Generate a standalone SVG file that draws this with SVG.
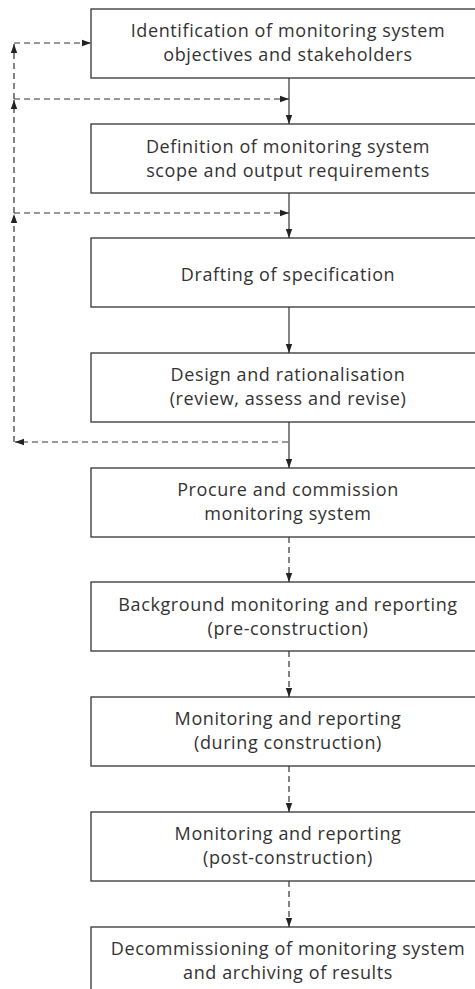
<svg xmlns="http://www.w3.org/2000/svg" width="475" height="989" viewBox="0 0 475 989">
<style>
.box{fill:#fff;stroke:#333;stroke-width:1.3}
.t{font-family:"Open Sans","Noto Sans","Liberation Sans",sans-serif;font-size:18px;fill:#333;text-anchor:middle;font-weight:400;letter-spacing:0.6px}
.c{fill:none;stroke:#333;stroke-width:1.2}
.d{stroke-dasharray:6 4}
</style>
<defs>
<marker id="ah" markerUnits="userSpaceOnUse" markerWidth="10" markerHeight="8" refX="9" refY="4" orient="auto">
<path d="M0,0.8 L9,4 L0,7.2 Z" fill="#222"/>
</marker>
</defs>
<rect width="475" height="989" fill="#fff"/>
<g id="connectors">
<path class="c" d="M289,78 V124" marker-end="url(#ah)"/>
<path class="c" d="M289,193 V238" marker-end="url(#ah)"/>
<path class="c" d="M289,307 V353" marker-end="url(#ah)"/>
<path class="c" d="M289,422 V468" marker-end="url(#ah)"/>
<path class="c d" d="M289,537 V582" marker-end="url(#ah)"/>
<path class="c d" d="M289,651 V697" marker-end="url(#ah)"/>
<path class="c d" d="M289,766 V812" marker-end="url(#ah)"/>
<path class="c d" d="M289,881 V927" marker-end="url(#ah)"/>
<path class="c d" d="M288,442 H15" marker-end="url(#ah)"/>
<path class="c d" d="M14,442 V214" marker-end="url(#ah)"/>
<path class="c d" d="M14,213 V100" marker-end="url(#ah)"/>
<path class="c d" d="M14,99 V44" marker-end="url(#ah)"/>
<path class="c d" d="M14,43 H91" marker-end="url(#ah)"/>
<path class="c d" d="M14,99 H289" marker-end="url(#ah)"/>
<path class="c d" d="M14,213 H289" marker-end="url(#ah)"/>
</g>
<g id="n1"><rect class="box" x="91" y="9" width="396" height="69"/>
<text class="t" x="288" y="37">Identification of monitoring system</text>
<text class="t" x="288" y="61">objectives and stakeholders</text></g>
<g id="n2"><rect class="box" x="91" y="124" width="396" height="69"/>
<text class="t" x="288" y="153">Definition of monitoring system</text>
<text class="t" x="288" y="177">scope and output requirements</text></g>
<g id="n3"><rect class="box" x="91" y="238" width="396" height="69"/>
<text class="t" x="288" y="281">Drafting of specification</text></g>
<g id="n4"><rect class="box" x="91" y="353" width="396" height="69"/>
<text class="t" x="288" y="381">Design and rationalisation</text>
<text class="t" x="288" y="405">(review, assess and revise)</text></g>
<g id="n5"><rect class="box" x="91" y="468" width="396" height="69"/>
<text class="t" x="288" y="496">Procure and commission</text>
<text class="t" x="288" y="520">monitoring system</text></g>
<g id="n6"><rect class="box" x="91" y="582" width="396" height="69"/>
<text class="t" x="288" y="611">Background monitoring and reporting</text>
<text class="t" x="288" y="635">(pre-construction)</text></g>
<g id="n7"><rect class="box" x="91" y="697" width="396" height="69"/>
<text class="t" x="288" y="725">Monitoring and reporting</text>
<text class="t" x="288" y="749">(during construction)</text></g>
<g id="n8"><rect class="box" x="91" y="812" width="396" height="69"/>
<text class="t" x="288" y="840">Monitoring and reporting</text>
<text class="t" x="288" y="864">(post-construction)</text></g>
<g id="n9"><rect class="box" x="91" y="927" width="396" height="69"/>
<text class="t" x="288" y="955">Decommissioning of monitoring system</text>
<text class="t" x="288" y="979">and archiving of results</text></g>
</svg>
